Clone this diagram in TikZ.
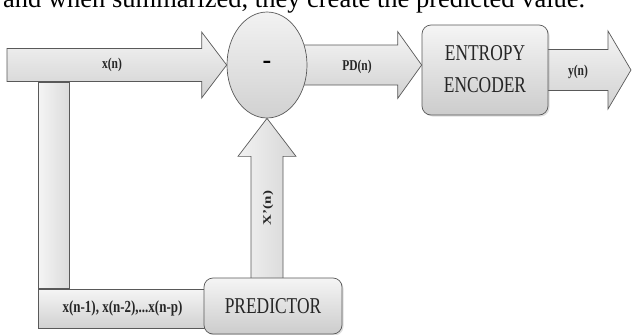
\documentclass[tikz,border=0pt]{standalone}
\usepackage{fontspec}
\setmainfont{Liberation Serif}
\usepackage{graphicx}
\usetikzlibrary{shapes.geometric}
\usetikzlibrary{shadows}
\usetikzlibrary{calc}
\pgfdeclarelayer{background}
\pgfsetlayers{background,main}

\newcommand{\tallbox}[1]{\scalebox{1}[1.3]{#1}}
\newcommand{\widebox}[1]{\scalebox{1.3}[1]{#1}}

% block arrow to the right: tail, tip, body half, head half, head length
\newcommand{\rightblock}[5]{
        \path[blockarrow] let \p1=(#1), \p2=(#2) in
        (\x1,\y1+#3pt) -- (\x2-#5pt,\y1+#3pt) -- (\x2-#5pt,\y1+#4pt) -- (\x2,\y1)
        -- (\x2-#5pt,\y1-#4pt) -- (\x2-#5pt,\y1-#3pt) -- (\x1,\y1-#3pt) -- cycle;
}
% block arrow upwards
\newcommand{\upblock}[5]{
        \path[blockarrow, left color=black!5, right color=black!16] let \p1=(#1), \p2=(#2) in
        (\x2-#3pt,\y1) -- (\x2-#3pt,\y2-#5pt) -- (\x2-#4pt,\y2-#5pt) -- (\x2,\y2)
        -- (\x2+#4pt,\y2-#5pt) -- (\x2+#3pt,\y2-#5pt) -- (\x2+#3pt,\y1) -- cycle;
}

\tikzset{
        blockarrow/.style={draw=black!65, line width=.7pt, top color=black!4, bottom color=black!18},
        block/.style={draw=black!65, line width=.7pt, rectangle, rounded corners=9pt,
                top color=black!4, bottom color=black!20,
                drop shadow={opacity=.25, shadow xshift=1.5pt, shadow yshift=-1.5pt}},
        lbl/.style={font=\fontsize{11.5}{12}\selectfont\bfseries, text=black!85, inner sep=0pt},
        bigtext/.style={font=\fontsize{17.4}{24.6}\selectfont, text=black!85}
}

\begin{document}
\begin{tikzpicture}[x=1pt, y=-1pt]
        \useasboundingbox (0,0) rectangle (633,335);

        \node[anchor=base west, inner sep=0pt, font=\fontsize{26.5}{30}\selectfont] (caption) at (3,7)
                {and when summarized, they create the predicted value.};

        \node[ellipse, draw=black!65, line width=.7pt, top color=black!5, bottom color=black!18,
                minimum width=80pt, minimum height=106pt, inner sep=0pt,
                font=\fontsize{26}{26}\selectfont\bfseries] (sub) at (267,65) {-};

        \node[block, minimum width=126pt, minimum height=90pt, bigtext] (enc) at (485,70)
                {\tallbox{\begin{tabular}{@{}c@{}}ENTROPY\\ENCODER\end{tabular}}};

        \node[rectangle, draw=black!65, line width=.7pt, top color=black!4, bottom color=black!18,
                minimum width=169pt, minimum height=39pt, inner sep=0pt,
                font=\fontsize{13}{13}\selectfont\bfseries, text=black!85] (past) at (122.5,308.5)
                {\tallbox{x(n-1), x(n-2),...x(n-p)}};

        \node[block, minimum width=138pt, minimum height=56pt, bigtext] (pred) at (273,306)
                {\tallbox{PREDICTOR}};

        \coordinate (src) at (7,65);
        \coordinate (tap) at (38,82);
        \coordinate (out) at (631,70);

        \begin{pgfonlayer}{background}
                \rightblock{src}{sub.west}{16.5}{33}{25}
                \rightblock{sub.center}{enc.west}{20}{33.5}{24}
                \rightblock{enc.center}{out}{20.5}{39}{23}
                \upblock{pred.center}{sub.south}{16}{29}{38}
                \draw[draw=black!65, line width=.7pt, left color=black!4, right color=black!14]
                        (tap) rectangle ([xshift=32pt]past.north west);
        \end{pgfonlayer}

        \node[lbl] (xlbl) at (112,65) {\tallbox{x(n)}};
        \node[lbl] (pdlbl) at (357,67) {\tallbox{PD(n)}};
        \node[lbl] (ylbl) at (578,72) {\tallbox{y(n)}};
        \node[lbl, rotate=90] (xplbl) at (268,208) {\widebox{X'(n)}};
\end{tikzpicture}
\end{document}
